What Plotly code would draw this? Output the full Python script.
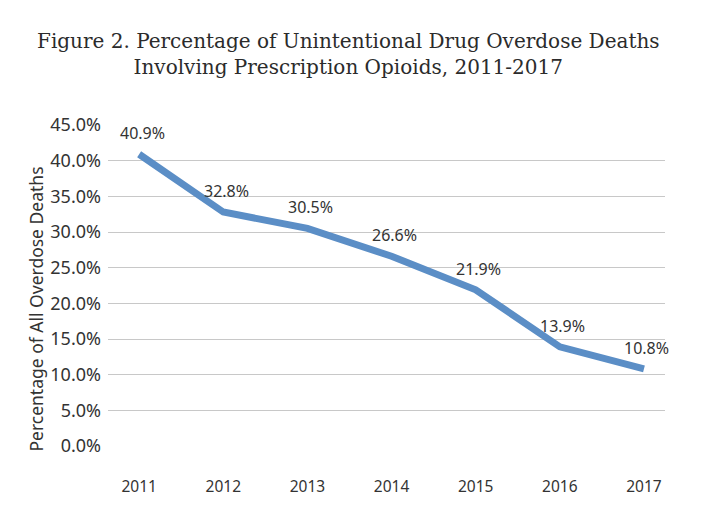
import plotly.graph_objects as go

years = [2011, 2012, 2013, 2014, 2015, 2016, 2017]
pct = [40.9, 32.8, 30.5, 26.6, 21.9, 13.9, 10.8]
labels = ["40.9%", "32.8%", "30.5%", "26.6%", "21.9%", "13.9%", "10.8%"]
yticks = [0, 5, 10, 15, 20, 25, 30, 35, 40, 45]
ytick_text = ["0.0%", "5.0%", "10.0%", "15.0%", "20.0%", "25.0%", "30.0%", "35.0%", "40.0%", "45.0%"]

FONT = "Noto Sans"

fig = go.Figure()
fig.add_trace(go.Scatter(
    x=years, y=pct, mode="lines",
    line=dict(color="#5b8ec6", width=7),
    hoverinfo="skip", showlegend=False,
))
for x, y, t in zip(years, pct, labels):
    fig.add_annotation(x=x, y=y, text=t, showarrow=False, xanchor="center",
                       yanchor="bottom", yshift=8, xshift=3,
                       font=dict(family=FONT, size=16, color="#333333"))

fig.add_annotation(
    xref="paper", yref="paper", x=0.432, y=1.0, yshift=98,
    text="Figure 2. Percentage of Unintentional Drug Overdose Deaths<br>Involving Prescription Opioids, 2011-2017",
    showarrow=False, xanchor="center", yanchor="top", align="center",
    font=dict(family="DejaVu Serif", size=20, color="#2b2b2b"),
)

fig.add_annotation(
    xref="paper", yref="paper", x=0, xshift=-72, y=0.425,
    text="Percentage of All Overdose Deaths", textangle=-90,
    showarrow=False, xanchor="center", yanchor="middle",
    font=dict(family=FONT, size=17.5, color="#333333"),
)

fig.update_layout(
    width=724, height=520,
    margin=dict(l=100, r=67, t=117, b=82),
    paper_bgcolor="white", plot_bgcolor="white",
    xaxis=dict(range=[2010.63, 2017.25], tickvals=years, ticktext=[str(y) for y in years],
               showgrid=False, zeroline=False, showline=False, ticks="",
               ticklabelstandoff=29,
               tickfont=dict(family=FONT, size=15.5, color="#333333")),
    yaxis=dict(range=[0, 45], tickvals=yticks, ticktext=ytick_text,
               showgrid=True, gridcolor="#c8c8c8", gridwidth=1, zeroline=False,
               showline=False, ticks="", ticklabelstandoff=6,
               tickfont=dict(family=FONT, size=18, color="#333333")),
)
fig.write_html("out.html")
